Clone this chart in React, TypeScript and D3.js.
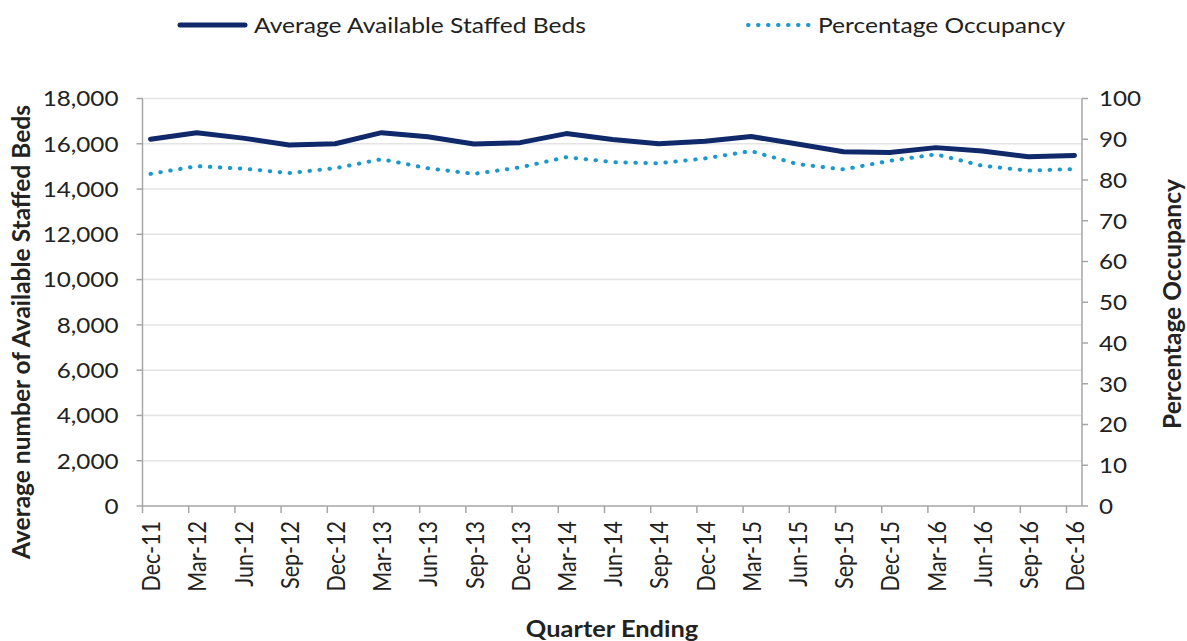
import React from "react";
import * as d3 from "d3";

const quarters = [
  "Dec-11", "Mar-12", "Jun-12", "Sep-12", "Dec-12", "Mar-13", "Jun-13", "Sep-13", "Dec-13",
  "Mar-14", "Jun-14", "Sep-14", "Dec-14", "Mar-15", "Jun-15", "Sep-15", "Dec-15", "Mar-16",
  "Jun-16", "Sep-16", "Dec-16",
];
const staffedBeds = [
  16200, 16490, 16250, 15950, 16000, 16490, 16310, 15990, 16050, 16450, 16190, 16000, 16110,
  16320, 15990, 15650, 15610, 15830, 15680, 15430, 15480,
];
const occupancy = [
  81.5, 83.4, 82.8, 81.7, 82.9, 85.1, 82.9, 81.5, 83.1, 85.6, 84.4, 84.1, 85.3, 87.1, 83.9,
  82.6, 84.7, 86.3, 83.5, 82.3, 82.7,
];
const leftTicks = [0, 2000, 4000, 6000, 8000, 10000, 12000, 14000, 16000, 18000];
const rightTicks = [0, 10, 20, 30, 40, 50, 60, 70, 80, 90, 100];

const seriesNames = ["Average Available Staffed Beds", "Percentage Occupancy"];
const leftTitle = "Average number of Available Staffed Beds";
const rightTitle = "Percentage Occupancy";
const xTitle = "Quarter Ending";

const W = 1187;
const H = 641;
const SX = 1.155; // horizontal stretch of text
const FONT = "Lato, 'Open Sans', sans-serif";
const NAVY = "#10296b";
const CYAN = "#1b98cc";
const AXIS = "#a6a6a6";
const GRID = "#e4e4e4";
const TEXT = "#222";

const plotLeft = 142.5;
const plotRight = 1082;
const plotTop = 98.5;
const plotBottom = 506;

export default function App() {
  const yL = d3.scaleLinear().domain([0, 18000]).range([plotBottom, plotTop]);
  const yR = d3.scaleLinear().domain([0, 100]).range([plotBottom, plotTop]);
  const n = quarters.length;
  const xData = d3.scaleLinear().domain([0, n - 1]).range([150.5, 1074.5]);
  const xTick = d3.scaleLinear().domain([0, n - 1]).range([142.5, 1066.5]);

  const bedsLine = d3
    .line<number>()
    .x((_, i) => xData(i))
    .y((d) => yL(d))(staffedBeds) as string;
  const occLine = d3
    .line<number>()
    .x((_, i) => xData(i))
    .y((d) => yR(d))(occupancy) as string;

  const hText = (x: number, y: number) => `translate(${x},${y}) scale(${SX},1)`;
  const vText = (x: number, y: number) => `translate(${x},${y}) scale(${SX},1) rotate(-90)`;
  const vPlain = (x: number, y: number) => `translate(${x},${y}) rotate(-90)`;

  return (
    <svg
      width={W}
      height={H}
      style={{ position: "absolute", left: 0, top: 0, background: "#fff" }}
      fontFamily={FONT}
    >
      <rect x={0} y={0} width={W} height={H} fill="#fff" />
      {/* gridlines */}
      {leftTicks
        .filter((t) => t !== 0)
        .map((t) => (
          <line key={"g" + t} x1={plotLeft} x2={plotRight} y1={yL(t)} y2={yL(t)} stroke={GRID} strokeWidth={1.5} />
        ))}
      {/* left axis */}
      <line x1={plotLeft} x2={plotLeft} y1={plotTop} y2={plotBottom} stroke={AXIS} strokeWidth={1.5} />
      {leftTicks.map((t) => (
        <g key={"l" + t}>
          <line x1={plotLeft - 6} x2={plotLeft} y1={yL(t)} y2={yL(t)} stroke={AXIS} strokeWidth={1.5} />
          <text
            transform={hText(118.5, yL(t))}
            textAnchor="end"
            dominantBaseline="central"
            fontSize={21}
            fill={TEXT}
          >
            {d3.format(",")(t)}
          </text>
        </g>
      ))}
      {/* right axis */}
      <line x1={plotRight} x2={plotRight} y1={plotTop} y2={plotBottom} stroke={AXIS} strokeWidth={1.5} />
      {rightTicks.map((t) => (
        <g key={"r" + t}>
          <line x1={plotRight} x2={plotRight + 6} y1={yR(t)} y2={yR(t)} stroke={AXIS} strokeWidth={1.5} />
          <text
            transform={hText(1099, yR(t))}
            textAnchor="start"
            dominantBaseline="central"
            fontSize={21}
            fill={TEXT}
          >
            {t}
          </text>
        </g>
      ))}
      {/* bottom axis */}
      <line x1={plotLeft} x2={plotRight} y1={plotBottom} y2={plotBottom} stroke={AXIS} strokeWidth={1.5} />
      {quarters.map((q, i) => (
        <g key={q}>
          <line x1={xTick(i)} x2={xTick(i)} y1={plotBottom} y2={plotBottom + 7} stroke={AXIS} strokeWidth={1.5} />
          <text
            transform={vText(xData(i), 521)}
            textAnchor="end"
            dominantBaseline="central"
            fontSize={21.5}
            fill={TEXT}
          >
            {q}
          </text>
        </g>
      ))}
      {/* series */}
      <path d={bedsLine} fill="none" stroke={NAVY} strokeWidth={5} strokeLinejoin="round" strokeLinecap="round" />
      <path
        d={occLine}
        fill="none"
        stroke={CYAN}
        strokeWidth={4}
        strokeLinecap="round"
        strokeDasharray="0.5 9.5"
      />
      {/* axis titles */}
      <text transform={vPlain(30, 332)} textAnchor="middle" fontSize={24.5} fontWeight="bold" fill={TEXT}>
        {leftTitle}
      </text>
      <text transform={vPlain(1181, 304)} textAnchor="middle" fontSize={24.5} fontWeight="bold" fill={TEXT}>
        {rightTitle}
      </text>
      <text transform={hText(612, 637)} textAnchor="middle" fontSize={22} fontWeight="bold" fill={TEXT}>
        {xTitle}
      </text>
      {/* legend */}
      <line x1={180} x2={245} y1={25} y2={25} stroke={NAVY} strokeWidth={5} strokeLinecap="round" />
      <text transform={hText(254, 25)} dominantBaseline="central" fontSize={21.3} fill={TEXT}>
        {seriesNames[0]}
      </text>
      <line x1={748} x2={810} y1={25} y2={25} stroke={CYAN} strokeWidth={4} strokeLinecap="round" strokeDasharray="0.5 9.5" />
      <text transform={hText(818, 25)} dominantBaseline="central" fontSize={21.3} fill={TEXT}>
        {seriesNames[1]}
      </text>
    </svg>
  );
}
